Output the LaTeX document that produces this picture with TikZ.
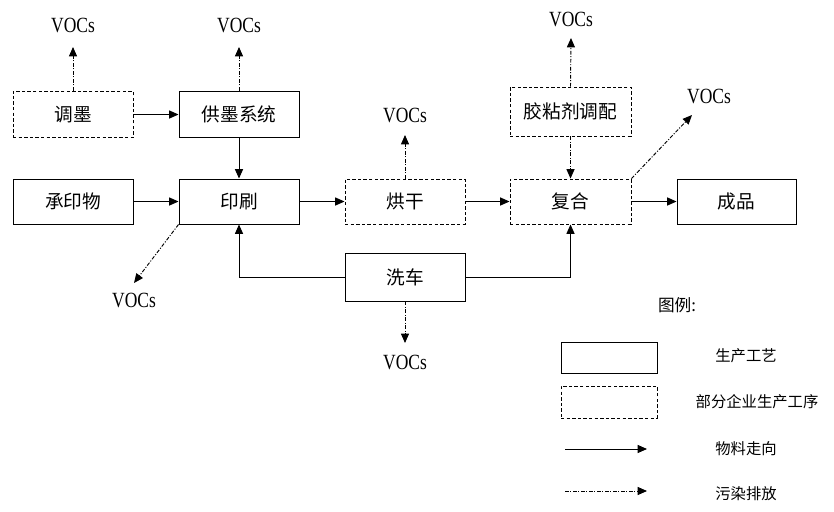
\documentclass[tikz,border=0pt]{standalone}
\usepackage{fontspec}
\setmainfont{Liberation Serif}
\newfontfamily\cjk{Noto Sans CJK SC}
\usetikzlibrary{arrows.meta}
\newcommand\vocs{\scalebox{1.05}[1.3]{VOCs}}
\tikzset{
  box/.style={draw, line width=0.7pt, minimum width=90pt, minimum height=35pt, inner sep=0pt, font=\cjk\fontsize{14}{14}\selectfont},
  optbox/.style={box, line width=0.7pt, dash pattern=on 2.6pt off 1.6pt},
  flow/.style={line width=0.75pt, -{Triangle[length=7pt,width=6pt]}},
  emit/.style={line width=0.7pt, dash pattern=on 2.8pt off 1.2pt on 0.8pt off 1.2pt, -{Triangle[length=7pt,width=6pt]}},
  voc/.style={font=\fontsize{12.5}{12.5}\selectfont, inner sep=0pt},
  leg/.style={font=\cjk\fontsize{11.5}{12}\selectfont, inner sep=0pt}
}
\begin{document}
\begin{tikzpicture}[x=0.75pt,y=-0.75pt]
\useasboundingbox[fill=white] (0,0) rectangle (834,511);
% process boxes
\node[optbox] (tm) at (73,114.5) {调墨};
\node[box] (gm) at (239,114.5) {供墨系统};
\node[box, minimum height=33.75pt] (cy) at (73,201.5) {承印物};
\node[box, minimum height=33.75pt] (ys) at (239,201.5) {印刷};
\node[optbox, minimum height=33.75pt] (hg) at (405,201.5) {烘干};
\node[optbox, minimum height=33.75pt, minimum width=90.75pt] (fh) at (570.5,201.5) {复合};
\node[box, minimum height=33.75pt, minimum width=89.25pt] (cp) at (736.5,201.5) {成品};
\node[optbox, minimum height=36.75pt, minimum width=90.75pt] (jn) at (570.5,111.5) {胶粘剂调配};
\node[box, minimum height=36pt] (xc) at (405,277) {洗车};
% VOCs labels
\node[voc] (v1) at (73,25) {\vocs};
\node[voc] (v2) at (239,25) {\vocs};
\node[voc] (v3) at (405,115) {\vocs};
\node[voc] (v4) at (571,19) {\vocs};
\node[voc] (v5) at (709,96) {\vocs};
\node[voc] (v6) at (134,300) {\vocs};
\node[voc] (v7) at (405,362) {\vocs};
% emission tips
\coordinate (t1) at (73,47);
\coordinate (t2) at (239,47);
\coordinate (t3) at (405,135);
\coordinate (t4) at (571,38);
\coordinate (t5) at (692,115);
\coordinate (t6) at (134,283);
\coordinate (t7) at (405,343);
% material flow
\draw[flow] (tm) -- (gm);
\draw[flow] (gm) -- (ys);
\draw[flow] (cy) -- (ys);
\draw[flow] (ys) -- (hg);
\draw[flow] (hg) -- (fh);
\draw[flow] (fh) -- (cp);
\draw[flow] (xc.west) -| (ys.south);
\draw[flow] (xc.east) -| (fh.south);
\draw[emit] (jn) -- (fh);
% emissions
\draw[emit] (tm.north) -- (t1);
\draw[emit] (gm.north) -- (t2);
\draw[emit] (hg.north) -- (t3);
\draw[emit] (jn.north) -- (t4);
\draw[emit] (fh.north east) -- (t5);
\draw[emit] (ys.south west) -- (t6);
\draw[emit] (xc.south) -- (t7);
% legend
\node[leg, font=\cjk\fontsize{12.5}{13}\selectfont] (lt) at (677,305) {图例:};
\node[box, minimum width=72pt, minimum height=23.25pt] (lb1) at (609,357.5) {};
\node[optbox, minimum width=72pt, minimum height=24pt] (lb2) at (609,402) {};
\node[leg] (l1) at (746,356) {生产工艺};
\node[leg] (l2) at (757,402) {部分企业生产工序};
\node[leg] (l3) at (746,449) {物料走向};
\node[leg] (l4) at (746,494) {污染排放};
\coordinate (a1s) at (565,449);
\coordinate (a1e) at (647,449);
\coordinate (a2s) at (565,491);
\coordinate (a2e) at (647,491);
\draw[flow, line width=0.7pt] (a1s) -- (a1e);
\draw[emit] (a2s) -- (a2e);
\end{tikzpicture}
\end{document}
